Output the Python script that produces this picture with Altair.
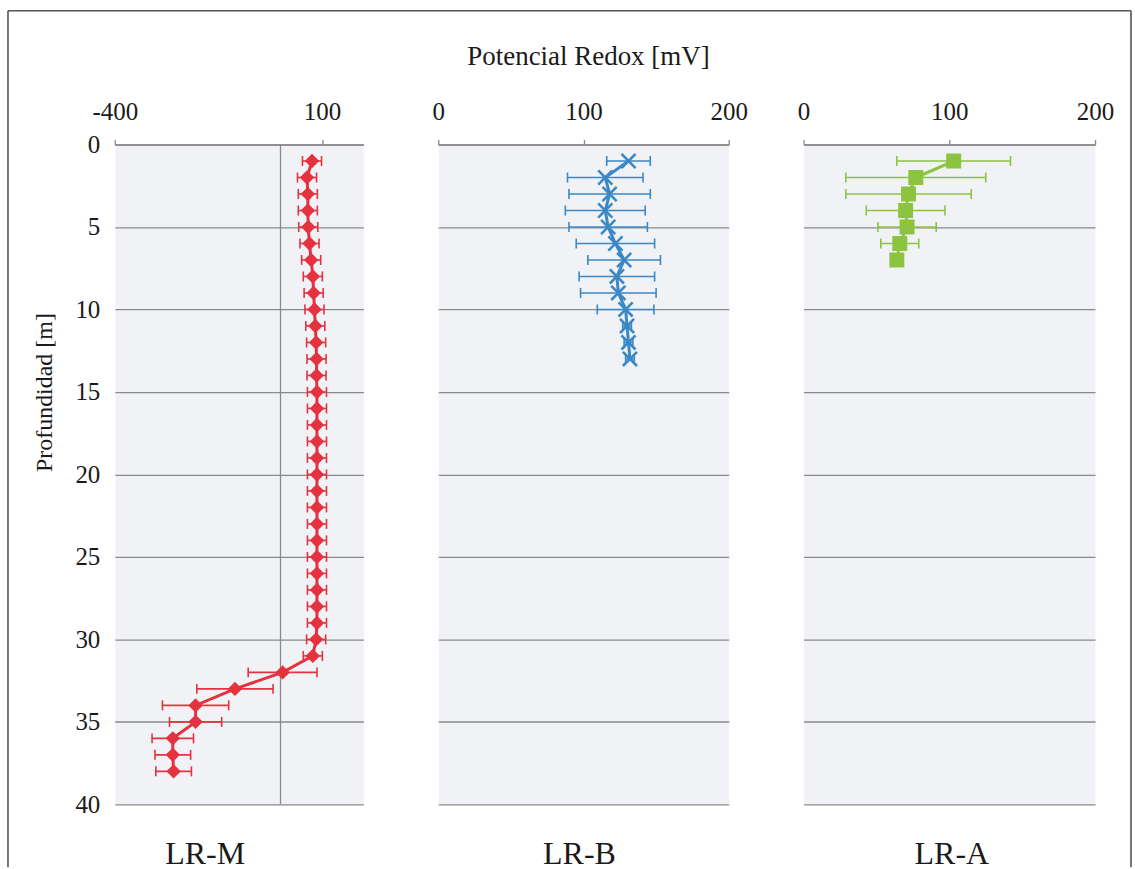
import altair as alt
import pandas as pd

# ---------------- data ----------------
depth_M = list(range(1, 39))
val_M = [76, 64, 66, 66, 67, 70, 74, 78, 80, 82, 84, 86, 87, 87, 88, 88, 88, 88, 88,
         88, 88, 88, 88, 88, 88, 88, 88, 88, 88, 86, 78, 5, -110, -205, -205, -260, -260, -258]
err_M = [23] * 31 + [83, 92, 80, 63, 50, 43, 43]

depth_B = list(range(1, 14))
val_B = [131, 115, 118, 115, 117, 122, 128, 123, 124, 129, 130, 131, 132]
err_B = [15, 26, 28, 27.5, 27, 27, 25, 26, 26, 19.5, 3, 3, 3]

depth_A = list(range(1, 8))
val_A = [103, 77, 72, 70, 71, 66, 64]
err_A = [39, 48, 43, 27, 20, 13, 2]

panel_names = ["LR-M", "LR-B", "LR-A"]
x_title = "Potencial Redox [mV]"
y_title = "Profundidad [m]"
y_ticks = [0, 5, 10, 15, 20, 25, 30, 35, 40]

# ---------------- style ----------------
FONT = "Liberation Serif"
GRID = "#8a8a8a"
TXT = "#1a1a1a"
H = 661
LBL = 25


def frame(depth, val, err):
    return pd.DataFrame({
        "depth": depth,
        "val": val,
        "lo": [v - e for v, e in zip(val, err)],
        "hi": [v + e for v, e in zip(val, err)],
    })


def top_axis(xvalues, show_title):
    kw = dict(orient="top", values=xvalues, grid=False, tickSize=5,
              labelPadding=15, domainColor=GRID, tickColor=GRID,
              domainWidth=1.3, tickWidth=1.3, labelFont=FONT,
              labelFontSize=LBL, labelColor=TXT, labelExpr="'' + datum.value",
              labelFlush=False, labelOverlap=False,
              title=x_title if show_title else "",
              titleFont=FONT, titleFontSize=27, titleFontWeight="normal",
              titleColor=TXT, titlePadding=29)
    if show_title:
        kw["titleX"] = 150
    return alt.Axis(**kw)


def bottom_axis(name, title_x):
    return alt.Axis(orient="bottom", labels=False, ticks=False, domain=False,
                    grid=False, title=name, titleFont=FONT, titleFontSize=32,
                    titleFontWeight="normal", titleColor=TXT, titleX=title_x,
                    titleY=49, titleBaseline="middle", titleAlign="center")


def panel(df, color, shape, size, filled, xdomain, xvalues, width, name, title_x,
          left_axis=False, show_xtitle=False, extras=()):
    xaxis = top_axis(xvalues, show_xtitle)
    if left_axis:
        yaxis = alt.Axis(values=y_ticks, grid=True, gridColor=GRID, gridWidth=1.3,
                         domain=False, ticks=False, tickSize=0, labelPadding=15,
                         labelFont=FONT, labelFontSize=LBL, labelColor=TXT,
                         labelFlush=False, labelOverlap=False,
                         title=y_title, titleFont=FONT, titleFontSize=24,
                         titleFontWeight="normal", titleColor=TXT, titlePadding=18,
                         titleY=248)
    else:
        yaxis = alt.Axis(values=y_ticks, grid=True, gridColor=GRID, gridWidth=1.3,
                         domain=False, ticks=False, tickSize=0, labels=False, title="")
    xs = alt.Scale(domain=xdomain, nice=False, zero=False)
    ys = alt.Scale(domain=[0, 40], reverse=True, nice=False, zero=False)

    base = alt.Chart(df)
    # only this layer carries the top axis
    bars = base.mark_rule(color=color, strokeWidth=1.6).encode(
        x=alt.X("lo:Q", scale=xs, axis=xaxis),
        x2="hi:Q",
        y=alt.Y("depth:Q", scale=ys, axis=yaxis),
    )
    caps_lo = base.mark_point(shape="M0,-1L0,1", filled=False, color=color,
                              strokeWidth=1.6, size=100, opacity=1).encode(
        x=alt.X("lo:Q", scale=xs, axis=None),
        y=alt.Y("depth:Q", scale=ys, axis=yaxis),
    )
    # only this layer carries the bottom (panel name) axis
    caps_hi = base.mark_point(shape="M0,-1L0,1", filled=False, color=color,
                              strokeWidth=1.6, size=100, opacity=1).encode(
        x=alt.X("hi:Q", scale=xs, axis=bottom_axis(name, title_x)),
        y=alt.Y("depth:Q", scale=ys, axis=yaxis),
    )
    line = base.mark_line(color=color, strokeWidth=3).encode(
        x=alt.X("val:Q", scale=xs, axis=None),
        y=alt.Y("depth:Q", scale=ys, axis=yaxis),
        order="depth:Q",
    )
    if filled:
        pts = base.mark_point(shape=shape, filled=True, color=color, size=size,
                              opacity=1)
    else:
        pts = base.mark_point(shape=shape, filled=False, color=color, size=size,
                              strokeWidth=2.6, opacity=1)
    pts = pts.encode(
        x=alt.X("val:Q", scale=xs, axis=None),
        y=alt.Y("depth:Q", scale=ys, axis=yaxis),
    )
    layers = list(extras) + [bars, caps_lo, caps_hi, line, pts]
    return alt.layer(*layers).properties(width=width, height=H)


# zero line of the LR-M panel
zero_df = pd.DataFrame({"x": [0]})
zero_rule = alt.Chart(zero_df).mark_rule(color=GRID, strokeWidth=1.3).encode(
    x=alt.X("x:Q", scale=alt.Scale(domain=[-400, 200], nice=False, zero=False),
            axis=None),
)

# outer frame of the figure (decoration)
one = alt.Data(values=[{"k": 1}])
BORDER = "#555555"
b_top = alt.Chart(one).mark_rule(color=BORDER, strokeWidth=1.6).encode(
    x=alt.value(-107), x2=alt.value(1018), y=alt.value(-134))
b_left = alt.Chart(one).mark_rule(color=BORDER, strokeWidth=1.6).encode(
    x=alt.value(-107), y=alt.value(-134), y2=alt.value(724))
b_right = alt.Chart(one).mark_rule(color=BORDER, strokeWidth=1.6).encode(
    x=alt.value(1018), y=alt.value(-134), y2=alt.value(724))

left = panel(frame(depth_M, val_M, err_M), "#e5323f", "diamond", 210, True,
             [-400, 200], [-400, 100], 249, panel_names[0], 90,
             left_axis=True, extras=(b_top, b_left, b_right, zero_rule))
mid = panel(frame(depth_B, val_B, err_B), "#3a88c6", "M-1,-1L1,1M-1,1L1,-1", 200, False,
            [0, 200], [0, 100, 200], 291, panel_names[1], 141, show_xtitle=True)
right = panel(frame(depth_A, val_A, err_A), "#8cc43f", "square", 225, True,
              [0, 200], [0, 100, 200], 292, panel_names[2], 148)

chart = alt.hconcat(left, mid, right, spacing=75, bounds="flush").properties(
    padding={"left": 6, "top": 8, "right": 2, "bottom": 1},
    background="white",
).configure_view(fill="#f0f2f6", stroke="transparent")

chart.save("out.html", embed_options={"renderer": "svg", "actions": False})
